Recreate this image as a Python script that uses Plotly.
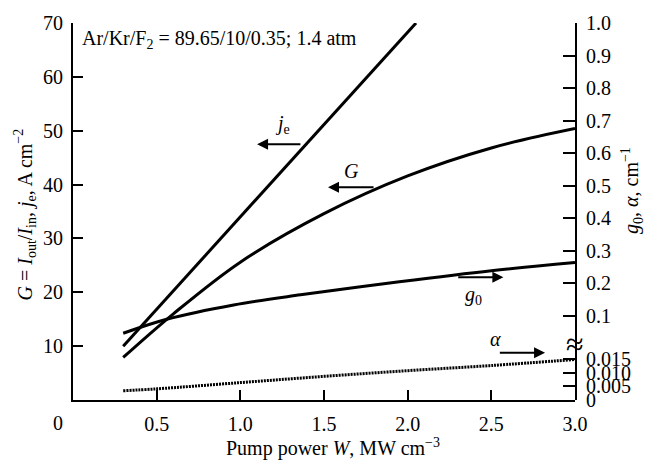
import plotly.graph_objects as go

# Pump power W (MW cm^-3) and measured quantities
W_je = [0.3, 1.0, 1.5, 2.05]
je = [10.0, 34.0, 51.1, 70.0]

W_G = [0.3, 0.6, 1.0, 1.5, 2.0, 2.5, 3.0]
G = [7.9, 16.0, 25.6, 34.6, 41.6, 46.8, 50.4]

W_g0 = [0.3, 0.56, 0.96, 1.36, 1.95, 2.5, 3.0]
g0 = [0.047, 0.090, 0.134, 0.165, 0.205, 0.239, 0.264]

W_alpha = [0.3, 0.5, 1.0, 1.5, 2.0, 2.5, 3.0]
alpha = [0.0034, 0.0041, 0.0064, 0.0087, 0.0108, 0.0127, 0.0149]

x_ticks = [0.5, 1.0, 1.5, 2.0, 2.5, 3.0]
x_ticktext = ["0.5", "1.0", "1.5", "2.0", "2.5", "3.0"]
left_ticks = [10, 20, 30, 40, 50, 60, 70]
g0_ticks = [0.1, 0.2, 0.3, 0.4, 0.5, 0.6, 0.7, 0.8, 0.9, 1.0]
g0_ticktext = ["0.1", "0.2", "0.3", "0.4", "0.5", "0.6", "0.7", "0.8", "0.9", "1.0"]
alpha_ticks = [0, 0.005, 0.010, 0.015]
alpha_ticktext = ["0", "0.005", "0.010", "0.015"]

FONT = "Liberation Serif"
FS = 20
BREAK = 0.1477  # fraction of plot height where the right axis is broken

fig = go.Figure()
line = dict(color="black", width=3)
fig.add_trace(go.Scatter(x=W_je, y=je, mode="lines", line=line, yaxis="y"))
fig.add_trace(go.Scatter(x=W_G, y=G, mode="lines", line=dict(line, shape="spline"), yaxis="y"))
fig.add_trace(go.Scatter(x=W_g0, y=g0, mode="lines", line=dict(line, shape="spline"), yaxis="y2"))
fig.add_trace(go.Scatter(x=W_alpha, y=alpha, mode="lines",
                         line=dict(color="black", width=3, dash="2px,1px", shape="spline"),
                         yaxis="y3"))

axis_common = dict(showline=True, linecolor="black", linewidth=2, ticks="inside",
                   tickcolor="black", tickwidth=2, showgrid=False, zeroline=False,
                   tickfont=dict(family=FONT, size=FS, color="black"))

fig.update_layout(
    width=660, height=466,
    margin=dict(l=73, r=85, t=14, b=66),
    paper_bgcolor="white", plot_bgcolor="rgba(0,0,0,0)",
    showlegend=False,
    font=dict(family=FONT, size=FS, color="black"),
    xaxis=dict(axis_common, range=[0, 3], tickvals=x_ticks, ticktext=x_ticktext,
               ticklen=10, ticklabelstandoff=5),
    yaxis=dict(axis_common, range=[0, 70], tickvals=left_ticks, ticklen=10,
               ticklabelstandoff=4),
    yaxis2=dict(axis_common, anchor="x", side="right",
                domain=[BREAK, 1], range=[0.013, 1.0], tickvals=g0_ticks,
                ticktext=g0_ticktext, ticklen=12, ticklabelstandoff=5),
    yaxis3=dict(axis_common, anchor="x", side="right", domain=[0, BREAK],
                range=[0, 0.0205], tickvals=alpha_ticks, ticktext=alpha_ticktext,
                ticklen=12, ticklabelstandoff=5),
)

ann = []
txt = dict(family=FONT, size=FS, color="black")
center = dict(xanchor="center", yanchor="middle", showarrow=False)

# corner label for x = 0
ann.append(dict(center, x=0, y=0, xref="x", yref="y", text="0",
                xshift=-15, yshift=-23, font=txt))
# gas mixture
ann.append(dict(x=0.014, y=0.957, xref="paper", yref="paper", xanchor="left",
                yanchor="middle", text="Ar/Kr/F<sub>2</sub> = 89.65/10/0.35; 1.4 atm",
                showarrow=False, font=txt))

# curve labels with arrows pointing to their axes
arrows = [
    ("<i>j</i><sub>e</sub>", 1.249, 51.1, 1.368, 1.10, 47.5),
    ("<i>G</i>", 1.667, 42.6, 1.805, 1.524, 39.5),
    ("<i>g</i><sub>0</sub>", 2.392, 19.35, 2.293, 2.572, 22.8),
    ("<i>α</i>", 2.522, 11.37, 2.542, 2.821, 8.76),
]
for label, lx, ly, tail, head, ay in arrows:
    ann.append(dict(center, x=lx, y=ly, xref="x", yref="y", text=label, font=txt))
    ann.append(dict(x=head, y=ay, ax=tail, ay=ay, xref="x", yref="y", axref="x", ayref="y",
                    text="", showarrow=True, arrowhead=2, arrowsize=1.1, arrowwidth=2,
                    arrowcolor="black"))

# axis break mark
ann.append(dict(center, x=1, y=BREAK, xref="paper", yref="paper", text="≈",
                font=dict(family=FONT, size=32, color="black")))

# axis titles
ann.append(dict(center, x=0.5175, y=-0.125, xref="paper", yref="paper",
                text="Pump power <i>W</i>, MW cm<sup>−3</sup>", font=txt))
ann.append(dict(center, x=-0.0956, y=0.492, xref="paper", yref="paper", textangle=-90,
                text="<i>G</i> = <i>I</i><sub>out</sub>/<i>I</i><sub>in</sub>, "
                     "<i>j</i><sub>e</sub>, A cm<sup>−2</sup>",
                font=txt))
ann.append(dict(center, x=1.1135, y=0.557, xref="paper", yref="paper", textangle=-90,
                text="<i>g</i><sub>0</sub>, <i>α</i>, cm<sup>−1</sup>",
                font=txt))

fig.update_layout(annotations=ann)
fig.write_html("out.html")
